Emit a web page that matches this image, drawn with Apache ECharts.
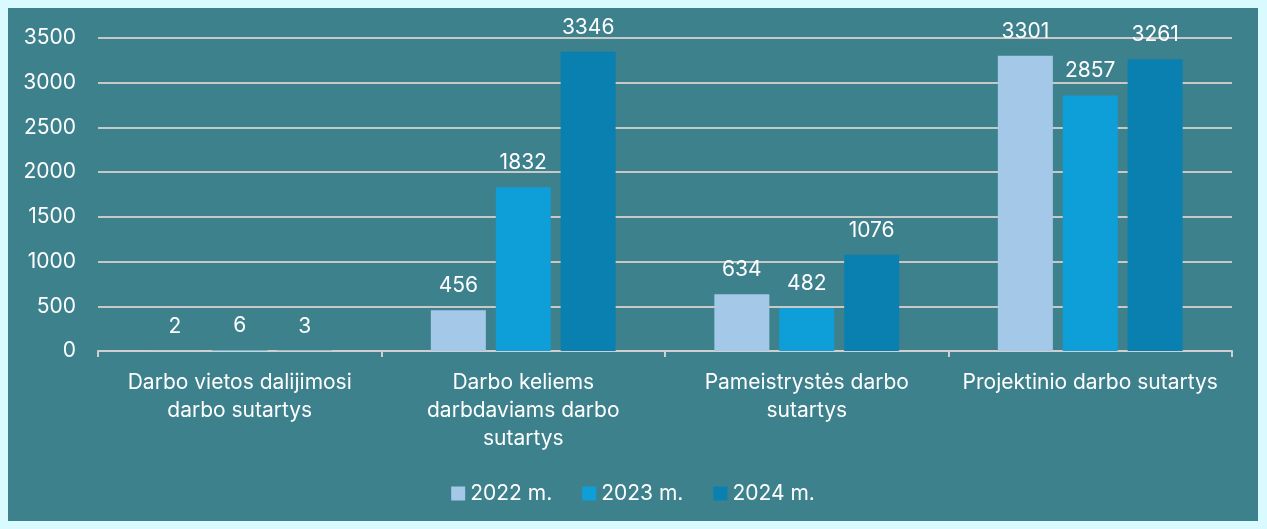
<!DOCTYPE html>
<html>
<head>
<meta charset="utf-8">
<script src="https://cdn.jsdelivr.net/npm/echarts@6/dist/echarts.min.js"></script>
<style>
    html, body { margin: 0; padding: 0; background: #d9fbff; }
    #chart { position: absolute; left: 8px; top: 8px; width: 1250px; height: 513px; background: #3d818d; }
</style>
</head>
<body>
<div id="chart"></div>
<script type="text/javascript">
    // duomenys
    var categories = ['Darbo vietos dalijimosi\ndarbo sutartys', 'Darbo keliems\ndarbdaviams darbo\nsutartys', 'Pameistrystės darbo\nsutartys', 'Projektinio darbo sutartys'];
    var years = ['2022 m.', '2023 m.', '2024 m.'];
    var values2022 = [2, 456, 634, 3301];
    var values2023 = [6, 1832, 482, 2857];
    var values2024 = [3, 3346, 1076, 3261];
    var colors = ['#a3c8e8', '#0f9fd8', '#0a80b0'];

    var chart = echarts.init(document.getElementById('chart'));
    var font = 'Inter, "Open Sans", sans-serif';

    function makeSeries(name, data, color) {
        return {
            name: name,
            type: 'bar',
            data: data,
            barWidth: 55,
            barGap: '18%',
            itemStyle: { color: color },
            label: {
                show: true,
                position: 'top',
                distance: 14,
                color: '#ffffff',
                fontSize: 21,
                fontFamily: font
            }
        };
    }

    var option = {
        backgroundColor: '#3d818d',
        animation: false,
        textStyle: { fontFamily: font },
        grid: {
            left: 90,
            right: 26,
            top: 30,
            bottom: 170
        },
        legend: {
            bottom: 12,
            left: 'center',
            itemWidth: 14,
            itemHeight: 14,
            itemGap: 30,
            itemTextGap: 4,
            icon: 'rect',
            data: years,
            textStyle: { color: '#ffffff', fontSize: 21, fontFamily: font }
        },
        xAxis: {
            type: 'category',
            data: categories,
            axisLine: { lineStyle: { color: '#d0d0d0', width: 2 } },
            axisTick: { show: true, length: 6, lineStyle: { color: '#d0d0d0', width: 2 } },
            axisLabel: {
                color: '#ffffff',
                fontSize: 21,
                lineHeight: 28,
                margin: 18,
                interval: 0,
                fontFamily: font
            }
        },
        yAxis: {
            type: 'value',
            min: 0,
            max: 3500,
            interval: 500,
            axisLine: { show: false },
            axisTick: { show: false },
            splitLine: { lineStyle: { color: '#c8c8c8', width: 2 } },
            axisLabel: {
                color: '#ffffff',
                fontSize: 21,
                margin: 22,
                fontFamily: font,
                formatter: function (v) { return String(v); }
            }
        },
        series: [
            makeSeries(years[0], values2022, colors[0]),
            makeSeries(years[1], values2023, colors[1]),
            makeSeries(years[2], values2024, colors[2])
        ]
    };

    chart.setOption(option);
</script>
</body>
</html>
